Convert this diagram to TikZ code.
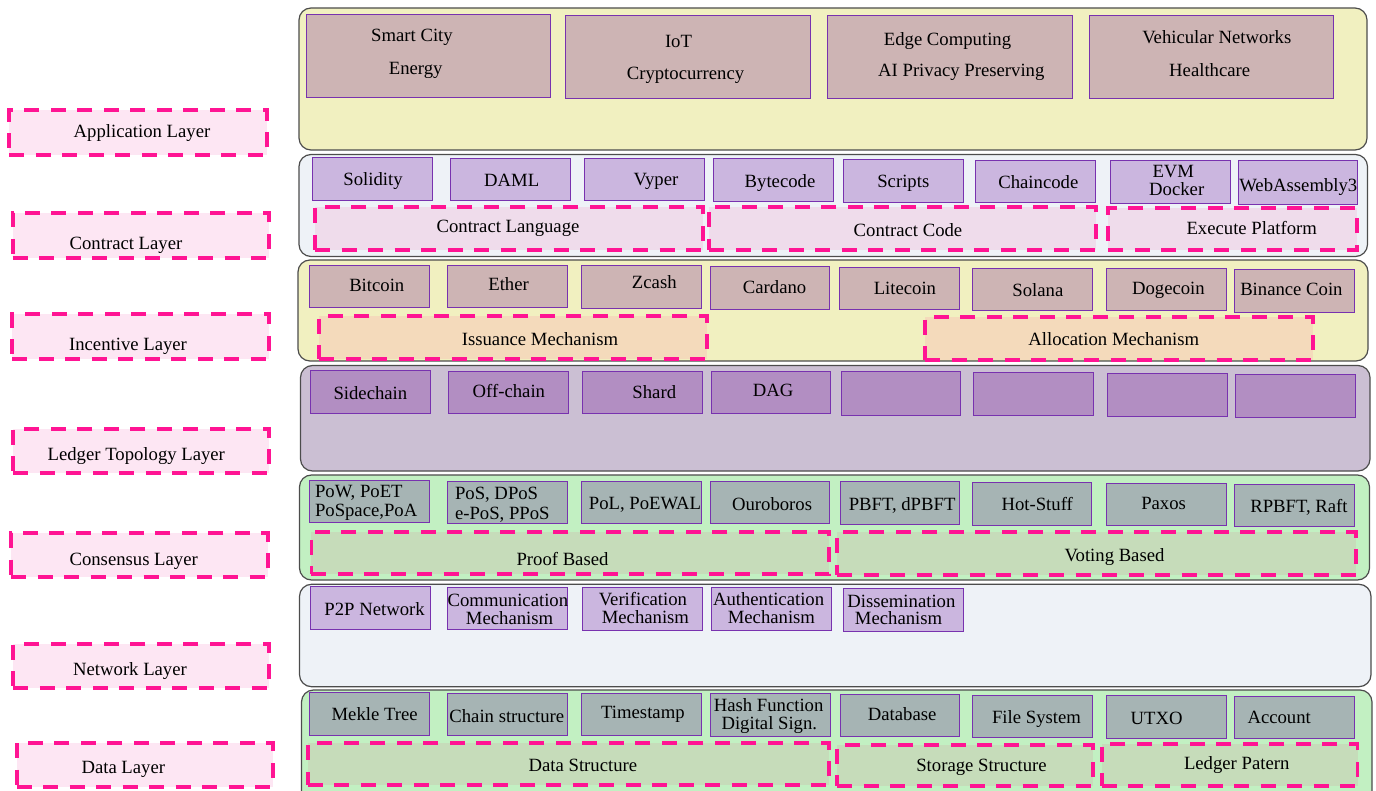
\documentclass[tikz,border=0pt]{standalone}
\usepackage{fontspec}
\setmainfont{Liberation Serif}
\usetikzlibrary{fit}
\definecolor{dpink}{RGB}{255,20,147}
\definecolor{lpink}{RGB}{253,230,243}
\definecolor{pyellow}{RGB}{241,240,192}
\definecolor{rosy}{RGB}{205,180,180}
\definecolor{bluegrey}{RGB}{238,242,247}
\definecolor{lav}{RGB}{203,182,223}
\definecolor{mauve}{RGB}{239,220,235}
\definecolor{peach}{RGB}{244,218,187}
\definecolor{ledgerbg}{RGB}{203,191,211}
\definecolor{ledgerbox}{RGB}{178,142,194}
\definecolor{lgreen}{RGB}{194,240,194}
\definecolor{greybox}{RGB}{166,180,180}
\definecolor{sage}{RGB}{198,220,186}
\definecolor{vborder}{RGB}{120,50,175}
\newcommand\mkB[6]{\node[#6, fit={(#2,#3) (#4,#5)}] (#1) {};}
\newcommand\mkT[4]{\node[txt] (#1) at (#2,#3) {#4};}
\newcommand\mkTL[4]{\node[txt, anchor=west] (#1) at (#2,#3) {#4};}
\begin{document}
\begin{tikzpicture}[x=1pt,y=-1pt,
 panel/.style={draw=black!70, line width=1.2pt, rounded corners=12pt, inner sep=0pt, outer sep=0pt},
 item/.style={draw=vborder, line width=1pt, inner sep=0pt, outer sep=0pt},
 dbox/.style={draw=dpink, line width=3.8pt, dash pattern=on 15pt off 11.5pt, inner sep=0pt, outer sep=0pt},
 txt/.style={font=\fontsize{18.7}{20}\selectfont, inner sep=0pt, outer sep=0pt, text height=15.7pt, text depth=3.8pt},
]
\useasboundingbox (0,0) rectangle (1376,791);
% ---------- layer labels
\mkB{applab}{9.3}{110}{266.7}{155}{dbox, fill=lpink}
\mkT{applab-t}{142}{131.7}{Application Layer}
\mkB{conlab}{12.7}{213}{268.7}{258}{dbox, fill=lpink}
\mkT{conlab-t}{126}{244}{Contract Layer}
\mkB{inclab}{12.3}{314.3}{268.7}{359.3}{dbox, fill=lpink}
\mkT{inclab-t}{128}{345}{Incentive Layer}
\mkB{ledlab}{13.3}{429.3}{269.3}{473.3}{dbox, fill=lpink}
\mkT{ledlab-t}{136.3}{454.3}{Ledger Topology Layer}
\mkB{cnslab}{11}{533.3}{267.7}{576.7}{dbox, fill=lpink}
\mkT{cnslab-t}{133.7}{560}{Consensus Layer}
\mkB{netlab}{13.3}{644.3}{269.3}{688.3}{dbox, fill=lpink}
\mkT{netlab-t}{130}{670}{Network Layer}
\mkB{datlab}{16.7}{742.7}{272.7}{786.7}{dbox, fill=lpink}
\mkT{datlab-t}{123.3}{767.7}{Data Layer}
% ---------- panels
\mkB{app}{299}{8}{1367}{150}{panel, fill=pyellow}
\mkB{con}{299}{154.5}{1367.5}{256.5}{panel, fill=bluegrey}
\mkB{inc}{298}{260}{1368}{361}{panel, fill=pyellow}
\mkB{led}{300.5}{365.5}{1370}{471}{panel, fill=ledgerbg}
\mkB{cns}{299.5}{475}{1369.5}{580}{panel, fill=lgreen}
\mkB{net}{299.5}{584.3}{1371}{686.7}{panel, fill=bluegrey}
\mkB{dat}{301.5}{690}{1372}{805}{panel, fill=lgreen}
% ---------- application
\mkB{a1}{306}{14.3}{550.7}{97.7}{item, fill=rosy}
\mkB{a2}{565.3}{15.7}{810}{99}{item, fill=rosy}
\mkB{a3}{827.7}{15.7}{1072.7}{99}{item, fill=rosy}
\mkB{a4}{1089}{15.7}{1333.3}{99}{item, fill=rosy}
\mkT{a1-t1}{412}{35.7}{Smart City}
\mkT{a1-t2}{415.7}{68.3}{Energy}
\mkT{a2-t1}{678.5}{41.7}{IoT}
\mkT{a2-t2}{685.5}{74}{Cryptocurrency}
\mkT{a3-t1}{947.5}{40}{Edge Computing}
\mkT{a3-t2}{961.3}{71}{AI Privacy Preserving}
\mkT{a4-t1}{1216.8}{37.7}{Vehicular Networks}
\mkT{a4-t2}{1209.7}{71}{Healthcare}
% ---------- contract
\mkB{c1}{312.7}{157.7}{432.7}{200.7}{item, fill=lav}
\mkB{c2}{450}{158.3}{570.3}{201}{item, fill=lav}
\mkB{c3}{584.7}{158.3}{704.3}{201}{item, fill=lav}
\mkB{c4}{713.3}{159}{833.3}{202}{item, fill=lav}
\mkB{c5}{843.3}{160}{963.3}{203}{item, fill=lav}
\mkB{c6}{975.7}{160.7}{1095.7}{202.7}{item, fill=lav}
\mkB{c7}{1110.3}{161}{1230}{203.7}{item, fill=lav}
\mkB{c8}{1238.3}{161}{1357.7}{204.7}{item, fill=lav}
\mkT{c1-t}{373}{180}{Solidity}
\mkT{c2-t}{511.7}{181}{DAML}
\mkT{c3-t}{656}{180}{Vyper}
\mkT{c4-t}{780}{181.7}{Bytecode}
\mkT{c5-t}{903.3}{182}{Scripts}
\mkT{c6-t}{1038.3}{183}{Chaincode}
\mkT{c7-t1}{1173.3}{172}{EVM}
\mkT{c7-t2}{1176.7}{190}{Docker}
\mkT{c8-t}{1298.3}{185.3}{WebAssembly3}
\mkB{cg1}{315}{206.7}{703.3}{250}{dbox, fill=mauve}
\mkB{cg2}{709.3}{206.7}{1095.7}{250}{dbox, fill=mauve}
\mkB{cg3}{1108.3}{208.3}{1356.7}{250}{dbox, fill=mauve}
\mkT{cg1-t}{508}{226.7}{Contract Language}
\mkT{cg2-t}{908}{231}{Contract Code}
\mkT{cg3-t}{1251.7}{228.3}{Execute Platform}
% ---------- incentive
\mkB{i1}{309.6}{265.7}{429.3}{307.7}{item, fill=rosy}
\mkB{i2}{447.5}{265.7}{567.1}{308}{item, fill=rosy}
\mkB{i3}{581.4}{266}{701.4}{308.7}{item, fill=rosy}
\mkB{i4}{710}{267}{829.3}{309.3}{item, fill=rosy}
\mkB{i5}{839.7}{267.3}{959.5}{309.3}{item, fill=rosy}
\mkB{i6}{972}{268.3}{1092.2}{310.3}{item, fill=rosy}
\mkB{i7}{1106.8}{268.7}{1226.2}{311}{item, fill=rosy}
\mkB{i8}{1234.6}{269.3}{1354.7}{312.3}{item, fill=rosy}
\mkT{i1-t}{376.8}{286}{Bitcoin}
\mkT{i2-t}{508.6}{285}{Ether}
\mkT{i3-t}{654.3}{282.7}{Zcash}
\mkT{i4-t}{774.6}{287.7}{Cardano}
\mkT{i5-t}{904.9}{288.3}{Litecoin}
\mkT{i6-t}{1037.9}{290.7}{Solana}
\mkT{i7-t}{1168.4}{288.3}{Dogecoin}
\mkT{i8-t}{1291.4}{289.3}{Binance Coin}
\mkB{ig1}{319.3}{316}{707.1}{359}{dbox, fill=peach}
\mkB{ig2}{925}{316.7}{1312.6}{360}{dbox, fill=peach}
\mkT{ig1-t}{540}{340}{Issuance Mechanism}
\mkT{ig2-t}{1113.8}{340}{Allocation Mechanism}
% ---------- ledger topology
\mkB{l1}{310.7}{370.7}{430.4}{413}{item, fill=ledgerbox}
\mkB{l2}{448.2}{371.7}{568.2}{413.3}{item, fill=ledgerbox}
\mkB{l3}{582.9}{371.7}{702.5}{413.3}{item, fill=ledgerbox}
\mkB{l4}{711.4}{371.7}{830.7}{413.7}{item, fill=ledgerbox}
\mkB{l5}{841.5}{371.7}{960.9}{415}{item, fill=ledgerbox}
\mkB{l6}{973.5}{372.7}{1093.2}{415.3}{item, fill=ledgerbox}
\mkB{l7}{1107.5}{373.3}{1227.6}{416}{item, fill=ledgerbox}
\mkB{l8}{1235.6}{374.3}{1355.8}{417}{item, fill=ledgerbox}
\mkT{l1-t}{370.4}{393.3}{Sidechain}
\mkT{l2-t}{508.9}{391.7}{Off-chain}
\mkT{l3-t}{654.3}{392.7}{Shard}
\mkT{l4-t}{773.2}{391}{DAG}
% ---------- consensus
\mkB{s1}{309.6}{480.7}{429.3}{522.3}{item, fill=greybox}
\mkB{s2}{447.5}{481}{567.1}{523.3}{item, fill=greybox}
\mkB{s3}{581.4}{481}{701.4}{523}{item, fill=greybox}
\mkB{s4}{710.4}{481.7}{829.3}{523.3}{item, fill=greybox}
\mkB{s5}{840.4}{481.7}{959.5}{524}{item, fill=greybox}
\mkB{s6}{972.8}{482.3}{1091.8}{525}{item, fill=greybox}
\mkB{s7}{1106.8}{483.3}{1226.2}{525.7}{item, fill=greybox}
\mkB{s8}{1234.6}{484}{1354.7}{526}{item, fill=greybox}
\mkTL{s1-t1}{315}{491.7}{PoW, PoET}
\mkTL{s1-t2}{315}{510.7}{PoSpace,PoA}
\mkTL{s2-t1}{455}{493.3}{PoS, DPoS}
\mkTL{s2-t2}{455}{513.3}{e-PoS, PPoS}
\mkT{s3-t}{645}{503.3}{PoL, PoEWAL}
\mkT{s4-t}{772.1}{505}{Ouroboros}
\mkT{s5-t}{902.1}{505}{PBFT, dPBFT}
\mkT{s6-t}{1037.2}{504.3}{Hot-Stuff}
\mkT{s7-t}{1163.6}{503.3}{Paxos}
\mkT{s8-t}{1299}{506.7}{RPBFT, Raft}
\mkB{sg1}{311.4}{531.7}{829.3}{574.3}{dbox, fill=sage}
\mkB{sg2}{837}{532.3}{1355.8}{575.3}{dbox, fill=sage}
\mkT{sg1-t}{562.5}{559.3}{Proof Based}
\mkT{sg2-t}{1114.5}{556}{Voting Based}
% ---------- network
\mkB{n1}{310.7}{586.7}{430.4}{629}{item, fill=lav}
\mkB{n2}{447.5}{587.3}{567.1}{629.7}{item, fill=lav}
\mkB{n3}{582.9}{587.3}{702.5}{630}{item, fill=lav}
\mkB{n4}{711.4}{587.3}{831}{630}{item, fill=lav}
\mkB{n5}{843.2}{588.3}{963.7}{631}{item, fill=lav}
\mkT{n1-t}{374.6}{610}{P2P Network}
\mkT{n2-t1}{507.9}{600.7}{Communication}
\mkT{n2-t2}{509.6}{618.3}{Mechanism}
\mkT{n3-t1}{642.9}{600}{Verification}
\mkT{n3-t2}{645.4}{618}{Mechanism}
\mkT{n4-t1}{768.6}{600}{Authentication}
\mkT{n4-t2}{771.4}{618}{Mechanism}
\mkT{n5-t1}{901.4}{601.5}{Dissemination}
\mkT{n5-t2}{898.6}{618.5}{Mechanism}
% ---------- data
\mkB{d1}{309.6}{692.7}{429.3}{735}{item, fill=greybox}
\mkB{d2}{447.5}{693.3}{567.1}{735.7}{item, fill=greybox}
\mkB{d3}{581.8}{693.3}{701.4}{735.7}{item, fill=greybox}
\mkB{d4}{710}{693.3}{830}{736}{item, fill=greybox}
\mkB{d5}{840.4}{694.3}{959.9}{736.7}{item, fill=greybox}
\mkB{d6}{972.8}{695}{1092.2}{737.3}{item, fill=greybox}
\mkB{d7}{1106.8}{695.7}{1226.2}{738}{item, fill=greybox}
\mkB{d8}{1234.6}{696.3}{1354.7}{738.7}{item, fill=greybox}
\mkT{d1-t}{374.6}{714.3}{Mekle Tree}
\mkT{d2-t}{506.8}{716.7}{Chain structure}
\mkT{d3-t}{642.9}{712.3}{Timestamp}
\mkT{d4-t1}{768.6}{706}{Hash Function}
\mkT{d4-t2}{769.3}{723.3}{Digital Sign.}
\mkT{d5-t}{902.1}{714.3}{Database}
\mkT{d6-t}{1036.5}{717.3}{File System}
\mkT{d7-t}{1156.6}{718.3}{UTXO}
\mkT{d8-t}{1279.2}{717.3}{Account}
\mkB{dg1}{307.9}{743.3}{829.3}{785}{dbox, fill=sage}
\mkB{dg2}{837}{745}{1092.9}{786}{dbox, fill=sage}
\mkB{dg3}{1101.6}{744}{1357.5}{786}{dbox, fill=sage}
\mkT{dg1-t}{582.9}{766}{Data Structure}
\mkT{dg2-t}{981.5}{766}{Storage Structure}
\mkT{dg3-t}{1236.7}{764}{Ledger Patern}
\end{tikzpicture}
\end{document}
